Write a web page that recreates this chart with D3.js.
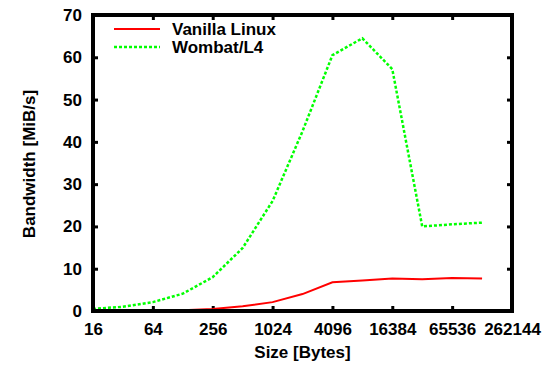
<!DOCTYPE html>
<html>
<head>
<meta charset="utf-8">
<script src="https://cdn.jsdelivr.net/npm/d3@7"></script>
<style>
    body { margin: 0; background: #fff; }
    text { font-family: "Liberation Sans", Arial, sans-serif; font-weight: bold; }
</style>
</head>
<body>
<div id="chart"></div>
<script>
// 数据
const sizes = [16, 32, 64, 128, 256, 512, 1024, 2048, 4096, 8192, 16384, 32768, 65536, 131072];
const vanillaLinux = [0.02, 0.05, 0.1, 0.2, 0.5, 1.1, 2.1, 4.0, 6.8, 7.2, 7.7, 7.5, 7.8, 7.7];
const wombatL4 = [0.5, 1.0, 2.1, 4.1, 8.0, 14.9, 26.0, 42.5, 60.5, 64.5, 57.2, 20.0, 20.5, 20.9];
const xTicks = [16, 64, 256, 1024, 4096, 16384, 65536, 262144];
const yTicks = [0, 10, 20, 30, 40, 50, 60, 70];

const W = 554, H = 366;
const margin = { top: 15, right: 42, bottom: 55, left: 93 };
const width = W - margin.left - margin.right;
const height = H - margin.top - margin.bottom;

const svg = d3.select('#chart').append('svg')
    .attr('width', W)
    .attr('height', H);

const g = svg.append('g')
    .attr('transform', `translate(${margin.left},${margin.top})`);

const x = d3.scaleLog().base(2).domain([16, 262144]).range([0, width]);
const y = d3.scaleLinear().domain([0, 70]).range([height, 0]);

// 坐标轴（刻度朝内）
function styleAxis(sel) {
    sel.select('.domain').remove();
    sel.selectAll('.tick line').attr('stroke', '#000').attr('stroke-width', 3);
    sel.selectAll('.tick text').attr('fill', '#000').style('font-size', '17px');
}

g.append('g')
    .attr('transform', `translate(0,${height})`)
    .call(d3.axisBottom(x).tickValues(xTicks).tickFormat(d3.format('d')).tickSizeInner(-5).tickSizeOuter(0).tickPadding(12))
    .call(styleAxis);

g.append('g')
    .call(d3.axisTop(x).tickValues(xTicks).tickFormat('').tickSizeInner(-5).tickSizeOuter(0))
    .call(styleAxis);

g.append('g')
    .call(d3.axisLeft(y).tickValues(yTicks).tickSizeInner(-5).tickSizeOuter(0).tickPadding(11))
    .call(styleAxis);

g.append('g')
    .attr('transform', `translate(${width},0)`)
    .call(d3.axisRight(y).tickValues(yTicks).tickFormat('').tickSizeInner(-5).tickSizeOuter(0))
    .call(styleAxis);

// 曲线
const line = d3.line()
    .x((d, i) => x(sizes[i]))
    .y(d => y(d));

g.append('path')
    .datum(wombatL4)
    .attr('fill', 'none')
    .attr('stroke', '#00ff00')
    .attr('stroke-width', 2.5)
    .attr('stroke-dasharray', '3,2')
    .attr('d', line);

g.append('path')
    .datum(vanillaLinux)
    .attr('fill', 'none')
    .attr('stroke', '#ff0000')
    .attr('stroke-width', 2)
    .attr('d', line);

// 边框
g.append('rect')
    .attr('width', width)
    .attr('height', height)
    .attr('fill', 'none')
    .attr('stroke', '#000')
    .attr('stroke-width', 4);

// 图例
const legend = [
    { name: 'Vanilla Linux', color: '#ff0000', dash: null },
    { name: 'Wombat/L4', color: '#00ff00', dash: '3,2' }
];
legend.forEach((d, i) => {
    const ly = 29 + i * 18;
    svg.append('line')
        .attr('x1', 114).attr('x2', 160)
        .attr('y1', ly).attr('y2', ly)
        .attr('stroke', d.color)
        .attr('stroke-width', d.dash ? 2.5 : 2)
        .attr('stroke-dasharray', d.dash);
    svg.append('text')
        .attr('x', 172)
        .attr('y', ly + 6)
        .style('font-size', '17px')
        .text(d.name);
});

// 轴标题
svg.append('text')
    .attr('x', margin.left + width / 2)
    .attr('y', 358)
    .attr('text-anchor', 'middle')
    .style('font-size', '17px')
    .text('Size [Bytes]');

svg.append('text')
    .attr('transform', `translate(35,164) rotate(-90)`)
    .attr('text-anchor', 'middle')
    .style('font-size', '17px')
    .text('Bandwidth [MiB/s]');
</script>
</body>
</html>
